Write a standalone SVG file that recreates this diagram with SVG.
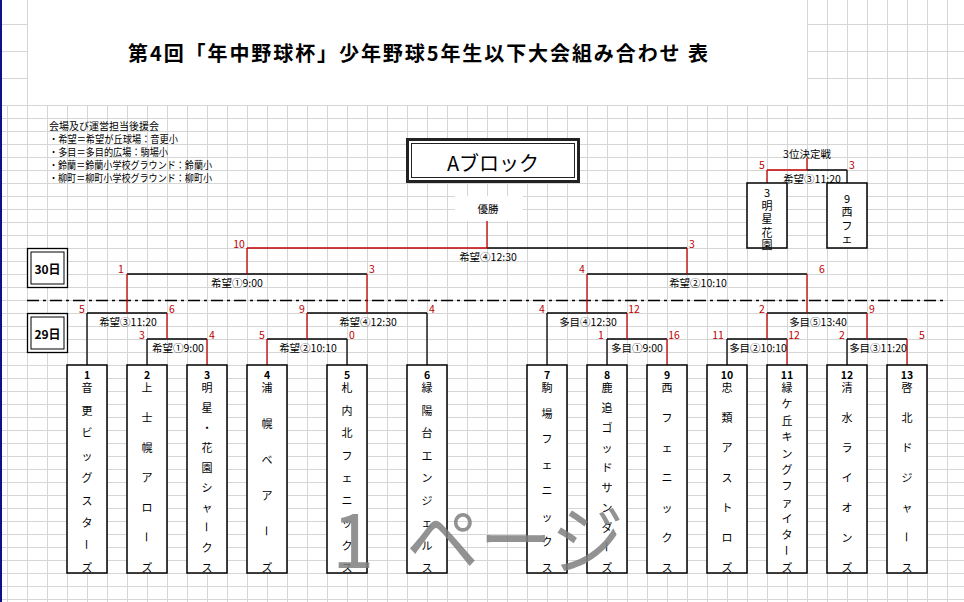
<svg xmlns="http://www.w3.org/2000/svg" width="964" height="602" viewBox="0 0 964 602">
<defs>
<pattern id="grid" x="7" y="105" width="20" height="13" patternUnits="userSpaceOnUse">
<path d="M0.5 0V13M0 0.5H20" stroke="#d6d6d6" stroke-width="1" fill="none"/>
</pattern>
<style>
text{font-family:"Noto Sans CJK JP","Noto Sans",sans-serif;dominant-baseline:central}
.b{stroke:#000;stroke-width:1.3;fill:none}
.r{stroke:#c00000;stroke-width:1.3;fill:none}
.sc{fill:#c00000;font-size:10.5px;text-anchor:middle}
.lb{fill:#000;font-size:10.5px;text-anchor:middle}
.tb{fill:#fff;stroke:#000;stroke-width:1.5}
.tm{fill:#000;font-size:11px;text-anchor:middle}
.no{fill:#000;font-size:10.5px;font-weight:bold;text-anchor:middle}
.gl{stroke:#d6d6d6;stroke-width:1}
.lg{fill:#000;font-size:10px}
.wm{fill:#7f7f7f;font-size:76px;opacity:0.85}
</style>
</defs>
<rect width="964" height="602" fill="#fff"/>
<rect x="0" y="105" width="964" height="497" fill="url(#grid)"/>
<g id="topgrid">
<path class="gl" d="M27.5 0V105M807.5 0V105M827.5 0V105M847.5 0V105M867.5 0V105M887.5 0V105M907.5 0V105M927.5 0V105M947.5 0V105M0 24.5H27M0 51.5H27M0 78.5H27M807 24.5H964M807 51.5H964M807 78.5H964"/>
</g>
<rect x="0" y="0" width="2" height="602" fill="#10108a"/>

<g id="title">
<text x="128" y="52" font-size="20" font-weight="bold" textLength="580" lengthAdjust="spacing">第4回「年中野球杯」少年野球5年生以下大会組み合わせ 表</text>
</g>

<g id="legend">
<text class="lg" x="49" y="125" textLength="110" lengthAdjust="spacingAndGlyphs">会場及び運営担当後援会</text>
<text class="lg" x="49" y="138.5" textLength="129" lengthAdjust="spacingAndGlyphs">・希望＝希望が丘球場：音更小</text>
<text class="lg" x="49" y="151.5" textLength="119" lengthAdjust="spacingAndGlyphs">・多目＝多目的広場：駒場小</text>
<text class="lg" x="49" y="164.5" textLength="163" lengthAdjust="spacingAndGlyphs">・鈴蘭＝鈴蘭小学校グラウンド：鈴蘭小</text>
<text class="lg" x="49" y="177" textLength="163" lengthAdjust="spacingAndGlyphs">・柳町＝柳町小学校グラウンド：柳町小</text>
</g>

<g id="block-title">
<rect x="407.5" y="139.5" width="171" height="42" fill="#fff" stroke="#222" stroke-width="3"/>
<rect x="411.5" y="143.5" width="163" height="34" fill="none" stroke="#222" stroke-width="1"/>
<text x="493" y="162" font-size="20" text-anchor="middle">Aブロック</text>
</g>

<g id="day30">
<rect x="27.5" y="248.5" width="40" height="39" fill="#fff" stroke="#000" stroke-width="1.3"/>
<rect x="31" y="252" width="33" height="32" fill="none" stroke="#000" stroke-width="1"/>
<text x="47.5" y="268" font-size="12" font-weight="bold" text-anchor="middle">30日</text>
</g>
<g id="day29">
<rect x="27.5" y="313.5" width="40" height="39" fill="#fff" stroke="#000" stroke-width="1.3"/>
<rect x="31" y="317" width="33" height="32" fill="none" stroke="#000" stroke-width="1"/>
<text x="47.5" y="333" font-size="12" font-weight="bold" text-anchor="middle">29日</text>
</g>

<g id="champion">
<rect x="455" y="196" width="68" height="25" fill="#fff"/>
<text class="lb" x="488" y="208">優勝</text>
</g>

<g id="connectors">
<path d="M27 300.5H947" stroke="#000" stroke-width="1.5" stroke-dasharray="12 4 3 4" fill="none"/>
<path class="b" d="M87 313H167M87 313V365M147 339H207M147 339V365M307 313H427M427 313V365M267 339H347M347 339V365M127 274H367M487 248H687"/>
<path class="b" d="M587 274H807M547 313H627M547 313V365M607 339H667M607 339V365M767 313H867M727 339H787M727 339V365M847 339H907M847 339V365"/>
<path class="b" d="M807 170H847M847 170V183"/>
<path class="r" d="M167 313V339M207 339V365M127 274V313M307 313V339M267 339V365M367 274V313M247 248V274M247 248H487M487 221V248M687 248V274"/>
<path class="r" d="M587 274V313M807 274V313M627 313V339M667 339V365M767 313V339M867 313V339M787 339V365M907 339V365"/>
<path class="r" d="M807 158V170M767 170H807M767 170V183"/>
</g>

<g id="match-labels">
<text class="lb" x="128" y="321">希望③11:20</text>
<text class="lb" x="178" y="347">希望①9:00</text>
<text class="lb" x="368" y="321">希望④12:30</text>
<text class="lb" x="308" y="347">希望②10:10</text>
<text class="lb" x="237" y="282">希望①9:00</text>
<text class="lb" x="488" y="256">希望④12:30</text>
<text class="lb" x="698" y="282">希望②10:10</text>
<text class="lb" x="588" y="321">多目④12:30</text>
<text class="lb" x="637" y="347">多目①9:00</text>
<text class="lb" x="818" y="321">多目⑤13:40</text>
<text class="lb" x="758" y="347">多目②10:10</text>
<text class="lb" x="878" y="347">多目③11:20</text>
<text class="lb" x="812" y="178">希望③11:20</text>
<text class="lb" x="807" y="153">3位決定戦</text>
</g>

<g id="scores">
<text class="sc" x="82" y="308">5</text><text class="sc" x="172" y="308">6</text>
<text class="sc" x="142" y="334">3</text><text class="sc" x="212" y="334">4</text>
<text class="sc" x="302" y="308">9</text><text class="sc" x="432" y="308">4</text>
<text class="sc" x="262" y="334">5</text><text class="sc" x="352" y="334">0</text>
<text class="sc" x="121" y="268">1</text><text class="sc" x="372" y="268">3</text>
<text class="sc" x="239" y="243">10</text><text class="sc" x="692" y="243">3</text>
<text class="sc" x="582" y="268">4</text><text class="sc" x="822" y="268">6</text>
<text class="sc" x="542" y="308">4</text><text class="sc" x="634" y="308">12</text>
<text class="sc" x="601" y="334">1</text><text class="sc" x="674" y="334">16</text>
<text class="sc" x="762" y="308">2</text><text class="sc" x="872" y="308">9</text>
<text class="sc" x="718" y="334">11</text><text class="sc" x="794" y="334">12</text>
<text class="sc" x="842" y="334">2</text><text class="sc" x="922" y="334">5</text>
<text class="sc" x="762" y="164">5</text><text class="sc" x="852" y="164">3</text>
</g>

<g id="team1">
<rect class="tb" x="67" y="365" width="40" height="208"/>
<text class="no" x="87" y="374">1</text>
<text class="tm"><tspan x="87" y="387">音</tspan><tspan x="87" y="409.5">更</tspan><tspan x="87" y="432">ビ</tspan><tspan x="87" y="454.5">ッ</tspan><tspan x="87" y="477">グ</tspan><tspan x="87" y="499.5">ス</tspan><tspan x="87" y="522">タ</tspan><tspan x="87" y="567">ズ</tspan></text>
<text class="tm" x="87" y="544.5" transform="rotate(90 87 544.5)">ー</text>
</g>
<g id="team2">
<rect class="tb" x="127" y="365" width="40" height="208"/>
<text class="no" x="147" y="374">2</text>
<text class="tm"><tspan x="147" y="387">上</tspan><tspan x="147" y="417">士</tspan><tspan x="147" y="447">幌</tspan><tspan x="147" y="477">ア</tspan><tspan x="147" y="507">ロ</tspan><tspan x="147" y="567">ズ</tspan></text>
<text class="tm" x="147" y="537" transform="rotate(90 147 537)">ー</text>
</g>
<g id="team3">
<rect class="tb" x="187" y="365" width="40" height="208"/>
<text class="no" x="207" y="374">3</text>
<text class="tm"><tspan x="207" y="387">明</tspan><tspan x="207" y="407">星</tspan><tspan x="207" y="427">・</tspan><tspan x="207" y="447">花</tspan><tspan x="207" y="467">園</tspan><tspan x="207" y="487">シ</tspan><tspan x="207" y="507">ャ</tspan><tspan x="207" y="547">ク</tspan><tspan x="207" y="567">ス</tspan></text>
<text class="tm" x="207" y="527" transform="rotate(90 207 527)">ー</text>
</g>
<g id="team4">
<rect class="tb" x="247" y="365" width="40" height="208"/>
<text class="no" x="267" y="374">4</text>
<text class="tm"><tspan x="267" y="387">浦</tspan><tspan x="267" y="423">幌</tspan><tspan x="267" y="459">ベ</tspan><tspan x="267" y="495">ア</tspan><tspan x="267" y="567">ズ</tspan></text>
<text class="tm" x="267" y="531" transform="rotate(90 267 531)">ー</text>
</g>
<g id="team5">
<rect class="tb" x="327" y="365" width="40" height="208"/>
<text class="no" x="347" y="374">5</text>
<text class="tm"><tspan x="347" y="387">札</tspan><tspan x="347" y="409.5">内</tspan><tspan x="347" y="432">北</tspan><tspan x="347" y="454.5">フ</tspan><tspan x="347" y="477">ェ</tspan><tspan x="347" y="499.5">ニ</tspan><tspan x="347" y="522">ッ</tspan><tspan x="347" y="544.5">ク</tspan><tspan x="347" y="567">ス</tspan></text>
</g>
<g id="team6">
<rect class="tb" x="407" y="365" width="40" height="208"/>
<text class="no" x="427" y="374">6</text>
<text class="tm"><tspan x="427" y="387">緑</tspan><tspan x="427" y="409.5">陽</tspan><tspan x="427" y="432">台</tspan><tspan x="427" y="454.5">エ</tspan><tspan x="427" y="477">ン</tspan><tspan x="427" y="499.5">ジ</tspan><tspan x="427" y="522">ェ</tspan><tspan x="427" y="544.5">ル</tspan><tspan x="427" y="567">ス</tspan></text>
</g>
<g id="team7">
<rect class="tb" x="527" y="365" width="40" height="208"/>
<text class="no" x="547" y="374">7</text>
<text class="tm"><tspan x="547" y="387">駒</tspan><tspan x="547" y="412.7">場</tspan><tspan x="547" y="438.4">フ</tspan><tspan x="547" y="464.1">ェ</tspan><tspan x="547" y="489.9">ニ</tspan><tspan x="547" y="515.6">ッ</tspan><tspan x="547" y="541.3">ク</tspan><tspan x="547" y="567">ス</tspan></text>
</g>
<g id="team8">
<rect class="tb" x="587" y="365" width="40" height="208"/>
<text class="no" x="607" y="374">8</text>
<text class="tm"><tspan x="607" y="387">鹿</tspan><tspan x="607" y="407">追</tspan><tspan x="607" y="427">ゴ</tspan><tspan x="607" y="447">ッ</tspan><tspan x="607" y="467">ド</tspan><tspan x="607" y="487">サ</tspan><tspan x="607" y="507">ン</tspan><tspan x="607" y="527">ダ</tspan><tspan x="607" y="567">ズ</tspan></text>
<text class="tm" x="607" y="547" transform="rotate(90 607 547)">ー</text>
</g>
<g id="team9">
<rect class="tb" x="647" y="365" width="40" height="208"/>
<text class="no" x="667" y="374">9</text>
<text class="tm"><tspan x="667" y="387">西</tspan><tspan x="667" y="417">フ</tspan><tspan x="667" y="447">ェ</tspan><tspan x="667" y="477">ニ</tspan><tspan x="667" y="507">ッ</tspan><tspan x="667" y="537">ク</tspan><tspan x="667" y="567">ス</tspan></text>
</g>
<g id="team10">
<rect class="tb" x="707" y="365" width="40" height="208"/>
<text class="no" x="727" y="374">10</text>
<text class="tm"><tspan x="727" y="387">忠</tspan><tspan x="727" y="417">類</tspan><tspan x="727" y="447">ア</tspan><tspan x="727" y="477">ス</tspan><tspan x="727" y="507">ト</tspan><tspan x="727" y="537">ロ</tspan><tspan x="727" y="567">ズ</tspan></text>
</g>
<g id="team11">
<rect class="tb" x="767" y="365" width="40" height="208"/>
<text class="no" x="787" y="374">11</text>
<text class="tm"><tspan x="787" y="387">緑</tspan><tspan x="787" y="403.4">ケ</tspan><tspan x="787" y="419.7">丘</tspan><tspan x="787" y="436.1">キ</tspan><tspan x="787" y="452.5">ン</tspan><tspan x="787" y="468.8">グ</tspan><tspan x="787" y="485.2">フ</tspan><tspan x="787" y="501.5">ァ</tspan><tspan x="787" y="517.9">イ</tspan><tspan x="787" y="534.3">タ</tspan><tspan x="787" y="567">ズ</tspan></text>
<text class="tm" x="787" y="550.6" transform="rotate(90 787 550.6)">ー</text>
</g>
<g id="team12">
<rect class="tb" x="827" y="365" width="40" height="208"/>
<text class="no" x="847" y="374">12</text>
<text class="tm"><tspan x="847" y="387">清</tspan><tspan x="847" y="417">水</tspan><tspan x="847" y="447">ラ</tspan><tspan x="847" y="477">イ</tspan><tspan x="847" y="507">オ</tspan><tspan x="847" y="537">ン</tspan><tspan x="847" y="567">ズ</tspan></text>
</g>
<g id="team13">
<rect class="tb" x="887" y="365" width="40" height="208"/>
<text class="no" x="907" y="374">13</text>
<text class="tm"><tspan x="907" y="387">啓</tspan><tspan x="907" y="417">北</tspan><tspan x="907" y="447">ド</tspan><tspan x="907" y="477">ジ</tspan><tspan x="907" y="507">ャ</tspan><tspan x="907" y="567">ス</tspan></text>
<text class="tm" x="907" y="537" transform="rotate(90 907 537)">ー</text>
</g>

<g id="third-a">
<rect class="tb" x="747" y="183" width="40" height="65"/>
<text class="tm" font-size="10.5"><tspan x="767" y="192">3</tspan><tspan x="767" y="204.5">明</tspan><tspan x="767" y="218">星</tspan><tspan x="767" y="231.5">花</tspan><tspan x="767" y="244">園</tspan></text>
</g>
<g id="third-b">
<rect class="tb" x="827" y="183" width="40" height="65"/>
<text class="tm" font-size="10.5"><tspan x="847" y="198">9</tspan><tspan x="847" y="211">西</tspan><tspan x="847" y="224.5">フ</tspan><tspan x="847" y="238">ェ</tspan></text>
</g>

<g id="watermark">
<text class="wm" x="353" y="535" text-anchor="middle">1</text>
<text class="wm" x="406" y="535" textLength="218" lengthAdjust="spacingAndGlyphs">ページ</text>
</g>
</svg>
